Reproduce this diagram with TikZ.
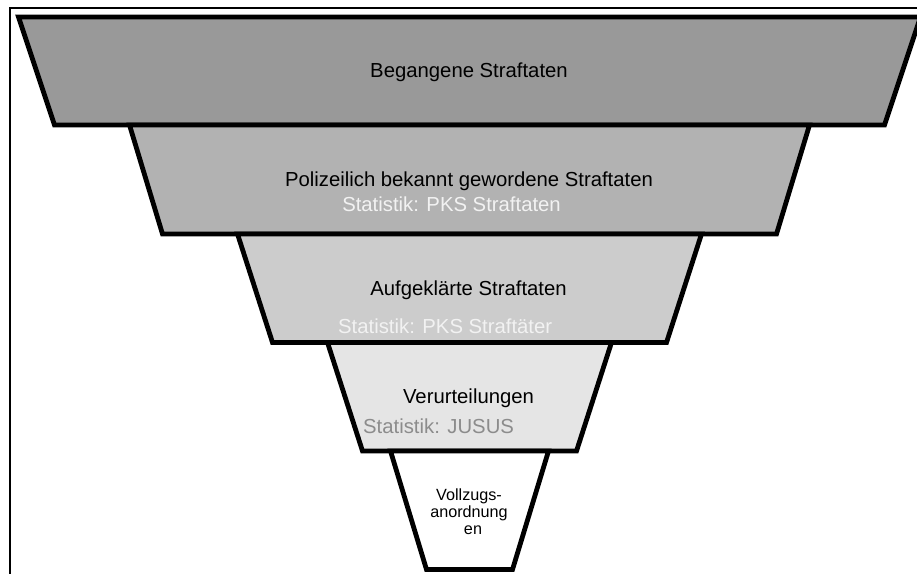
\documentclass[tikz,border=0pt]{standalone}
\usepackage{fontspec}
\setmainfont{Liberation Sans}
\begin{document}
\begin{tikzpicture}[x=1pt,y=-1pt,
  lvl/.style={draw=black, line width=4.8pt, line join=miter},
  lbl/.style={font=\fontsize{20.3}{24}\selectfont, inner sep=0pt, text=black, anchor=base},
  statw/.style={font=\fontsize{20.3}{24}\selectfont, inner sep=0pt, text=black!5, anchor=base},
  statg/.style={font=\fontsize{20.3}{24}\selectfont, inner sep=0pt, text=black!45, anchor=base west},
  small/.style={font=\fontsize{16.2}{18}\selectfont, inner sep=0pt, text=black, anchor=base},
]
\useasboundingbox (0,0) rectangle (917,573);
\clip (0,0) rectangle (917,573);
\fill[white] (0,0) rectangle (917,573);
% frame
\draw[line width=2pt] (10,8) rectangle (940,600);
% funnel levels
\filldraw[lvl, fill=black!40] (18.5,17) -- (920.5,17) -- (884.5,125) -- (54.5,125) -- cycle;
\filldraw[lvl, fill=black!30] (129.5,125) -- (809.5,125) -- (776.5,234) -- (162.5,234) -- cycle;
\filldraw[lvl, fill=black!20] (237.5,234) -- (701.5,234) -- (666.5,342.5) -- (272.5,342.5) -- cycle;
\filldraw[lvl, fill=black!10] (327.5,342.5) -- (611.5,342.5) -- (576.5,451) -- (362.5,451) -- cycle;
\filldraw[lvl, fill=white] (390.5,451) -- (548.5,451) -- (512.5,569.5) -- (426.5,569.5) -- cycle;
% labels
\node[lbl] (l1) at (469,77) {Begangene Straftaten};
\node[lbl] (l2) at (469,186) {Polizeilich bekannt gewordene Straftaten};
\node[statw] (s2) at (451.5,211) {Statistik: PKS Straftaten};
\node[lbl] (l3) at (468.5,295) {Aufgeklärte Straftaten};
\node[statw, anchor=base west] (s3) at (338,333) {Statistik: PKS Straftäter};
\node[lbl] (l4) at (468.5,403) {Verurteilungen};
\node[statg] (s4) at (363,433) {Statistik: JUSUS};
\node[small] (v1) at (469,500) {Vollzugs-};
\node[small] (v2) at (469,517) {anordnung};
\node[small] (v3) at (473,534) {en};
\end{tikzpicture}
\end{document}
